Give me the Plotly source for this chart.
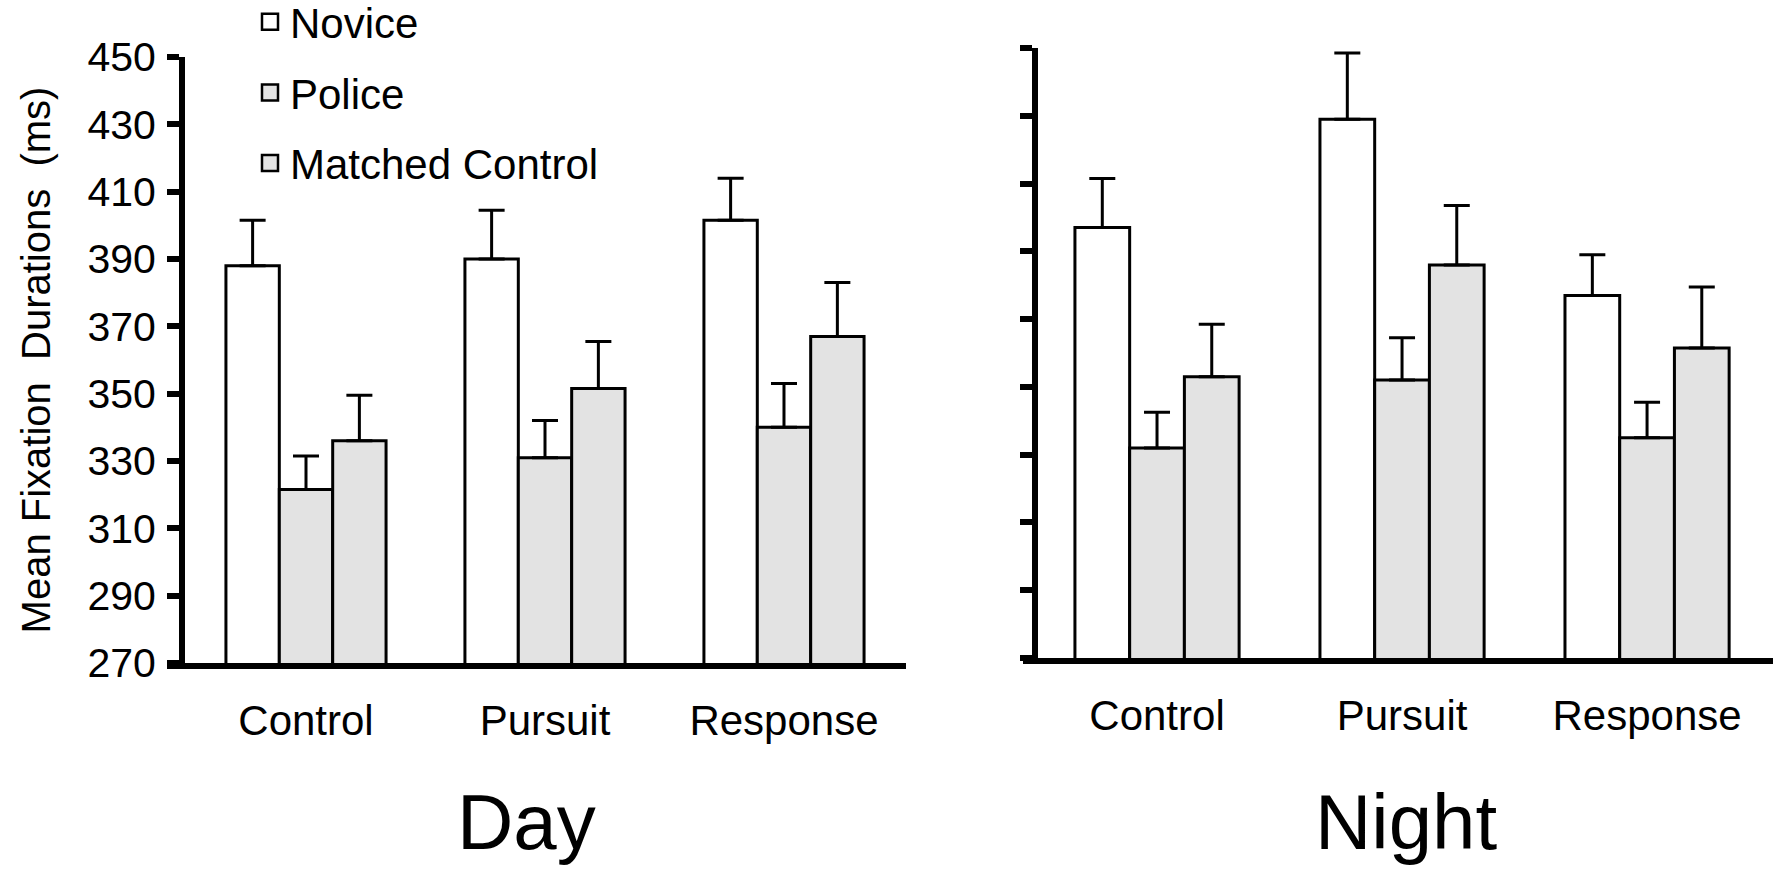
import plotly.graph_objects as go

categories = ["Control", "Pursuit", "Response"]
groups = ["Novice", "Police", "Matched Control"]
panel_titles = ["Day", "Night"]

day_novice = [388, 390, 401.5]
day_novice_err = [13.5, 14.5, 12.5]
day_police = [321.5, 331, 340]
day_police_err = [10, 11, 13]
day_matched = [336, 351.5, 367]
day_matched_err = [13.5, 14, 16]

night_novice = [397, 429, 377]
night_novice_err = [14.5, 19.5, 12]
night_police = [332, 352, 335]
night_police_err = [10.5, 12.5, 10.5]
night_matched = [353, 386, 361.5]
night_matched_err = [15.5, 17.5, 18]

y_ticks = [270, 290, 310, 330, 350, 370, 390, 410, 430, 450]

FONT = "Liberation Sans, Arial, Helvetica, sans-serif"
fills = {"Novice": "#ffffff", "Police": "#e3e3e3", "Matched Control": "#e3e3e3"}

fig = go.Figure()

panels = [
    ("x", "y", [day_novice, day_police, day_matched], [day_novice_err, day_police_err, day_matched_err]),
    ("x2", "y2", [night_novice, night_police, night_matched], [night_novice_err, night_police_err, night_matched_err]),
]
for xa, ya, vals, errs in panels:
    for name, v, e in zip(groups, vals, errs):
        fig.add_trace(go.Bar(
            x=categories, y=v, name=name, xaxis=xa, yaxis=ya, showlegend=False,
            marker=dict(color=fills[name], line=dict(color="black", width=3)),
            error_y=dict(type="data", array=e, arrayminus=[0] * len(e), symmetric=False,
                         color="black", thickness=3, width=13),
        ))

# legend entries
for name in groups:
    fig.add_trace(go.Scatter(
        x=[None], y=[None], mode="markers", name=name, xaxis="x", yaxis="y",
        legendgroup=name,
        marker=dict(symbol="square", size=16, color=fills[name], line=dict(color="black", width=2.5)),
    ))

W, H = 1776, 870
axis_common = dict(showgrid=False, zeroline=False, showline=True, linecolor="black",
                   linewidth=6, automargin=False)

fig.update_layout(
    width=W, height=H,
    margin=dict(l=0, r=0, t=0, b=0, autoexpand=False),
    paper_bgcolor="white", plot_bgcolor="white",
    barmode="group", bargap=0.33, bargroupgap=0,
    font=dict(family=FONT, color="black", size=42),
    showlegend=True,
    legend=dict(x=250 / W, y=1.0 + 12 / H, xanchor="left", yanchor="top",
                bgcolor="rgba(0,0,0,0)", font=dict(size=42, family=FONT),
                tracegroupgap=13, itemsizing="trace"),
    xaxis=dict(domain=[167 / W, 906 / W], range=[-0.5816, 2.5105], anchor="y",
               ticks="", tickfont=dict(size=42), ticklabelstandoff=16, **axis_common),
    yaxis=dict(domain=[(H - 663) / H, (H - 57) / H], range=[270, 450], anchor="free",
               position=182 / W, tickvals=y_ticks, ticks="outside", ticklen=12, tickwidth=6,
               tickcolor="black", tickfont=dict(size=41), ticklabelstandoff=3,
               title=dict(text="Mean Fixation  Durations  (ms)", font=dict(size=40), standoff=23),
               **axis_common),
    xaxis2=dict(domain=[1023 / W, 1773 / W], range=[-0.547, 2.514], anchor="y2",
                ticks="", tickfont=dict(size=42), ticklabelstandoff=16, **axis_common),
    yaxis2=dict(domain=[(H - 658) / H, (H - 48) / H], range=[270, 450], anchor="free",
                position=1035 / W, tickvals=y_ticks, ticks="outside", ticklen=12, tickwidth=6,
                tickcolor="black", showticklabels=False, **axis_common),
)

for xref, xfrac, text in [("x domain", 0.487, panel_titles[0]), ("x2 domain", 0.511, panel_titles[1])]:
    fig.add_annotation(text=text, xref=xref, x=xfrac, yref="paper", y=(H - 822) / H,
                       xanchor="center", yanchor="middle", showarrow=False,
                       font=dict(size=78, family=FONT, color="black"))

fig.write_html("out.html")
